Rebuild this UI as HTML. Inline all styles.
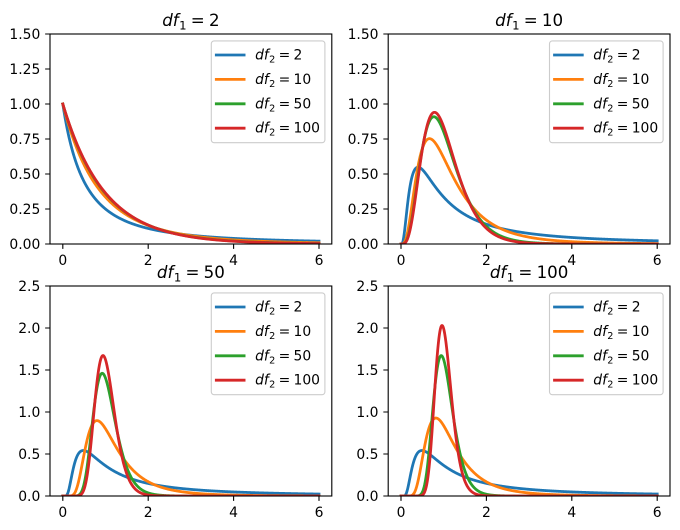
<!DOCTYPE html>
<html><head><meta charset="utf-8">
<style>
html,body{margin:0;padding:0;background:#fff;}
svg{display:block;}
text{font-family:"DejaVu Sans","Liberation Sans",sans-serif;fill:#000;}
.tk{font-size:13.89px;}
.ttl{font-size:16.67px;}
.lg{font-size:13.89px;}
</style></head>
<body>
<svg id="fig" width="680" height="530" viewBox="0 0 680 530" xmlns="http://www.w3.org/2000/svg">
<rect width="680" height="530" fill="#fff"/>
<defs>
 <clipPath id="c0"><rect x="50" y="34" width="281.8" height="210"/></clipPath>
 <clipPath id="c1"><rect x="388.2" y="34" width="281.8" height="210"/></clipPath>
 <clipPath id="c2"><rect x="50" y="286" width="281.8" height="210"/></clipPath>
 <clipPath id="c3"><rect x="388.2" y="286" width="281.8" height="210"/></clipPath>
</defs>

<!-- curves -->
<g id="g0" clip-path="url(#c0)"></g>
<g id="g1" clip-path="url(#c1)"></g>
<g id="g2" clip-path="url(#c2)"></g>
<g id="g3" clip-path="url(#c3)"></g>

<!-- spines & ticks -->
<g stroke="#000" stroke-width="1.11" fill="none">
 <rect x="50" y="34" width="281.8" height="210"/>
 <rect x="388.2" y="34" width="281.8" height="210"/>
 <rect x="50" y="286" width="281.8" height="210"/>
 <rect x="388.2" y="286" width="281.8" height="210"/>
 <path d="M45.14 244H50M45.14 209H50M45.14 174H50M45.14 139H50M45.14 104H50M45.14 69H50M45.14 34H50"/>
 <path d="M383.34 244H388.2M383.34 209H388.2M383.34 174H388.2M383.34 139H388.2M383.34 104H388.2M383.34 69H388.2M383.34 34H388.2"/>
 <path d="M45.14 496H50M45.14 454H50M45.14 412H50M45.14 370H50M45.14 328H50M45.14 286H50"/>
 <path d="M383.34 496H388.2M383.34 454H388.2M383.34 412H388.2M383.34 370H388.2M383.34 328H388.2M383.34 286H388.2"/>
 <path d="M62.81 244V248.86M148.2 244V248.86M233.6 244V248.86M319 244V248.86"/>
 <path d="M401 244V248.86M486.4 244V248.86M571.8 244V248.86M657.2 244V248.86"/>
 <path d="M62.81 496V500.86M148.2 496V500.86M233.6 496V500.86M319 496V500.86"/>
 <path d="M401 496V500.86M486.4 496V500.86M571.8 496V500.86M657.2 496V500.86"/>
</g>

<!-- y tick labels -->
<g class="tk" text-anchor="end">
 <text x="40.3" y="249">0.00</text><text x="40.3" y="214">0.25</text><text x="40.3" y="179">0.50</text><text x="40.3" y="144">0.75</text><text x="40.3" y="109">1.00</text><text x="40.3" y="74">1.25</text><text x="40.3" y="39">1.50</text>
 <text x="378.5" y="249">0.00</text><text x="378.5" y="214">0.25</text><text x="378.5" y="179">0.50</text><text x="378.5" y="144">0.75</text><text x="378.5" y="109">1.00</text><text x="378.5" y="74">1.25</text><text x="378.5" y="39">1.50</text>
 <text x="40.3" y="501">0.0</text><text x="40.3" y="459">0.5</text><text x="40.3" y="417">1.0</text><text x="40.3" y="375">1.5</text><text x="40.3" y="333">2.0</text><text x="40.3" y="291">2.5</text>
 <text x="378.5" y="501">0.0</text><text x="378.5" y="459">0.5</text><text x="378.5" y="417">1.0</text><text x="378.5" y="375">1.5</text><text x="378.5" y="333">2.0</text><text x="378.5" y="291">2.5</text>
</g>

<!-- x tick labels -->
<g class="tk" text-anchor="middle">
 <text x="62.81" y="265">0</text><text x="148.2" y="265">2</text><text x="233.6" y="265">4</text><text x="319" y="265">6</text>
 <text x="401" y="265">0</text><text x="486.4" y="265">2</text><text x="571.8" y="265">4</text><text x="657.2" y="265">6</text>
 <text x="62.81" y="517">0</text><text x="148.2" y="517">2</text><text x="233.6" y="517">4</text><text x="319" y="517">6</text>
 <text x="401" y="517">0</text><text x="486.4" y="517">2</text><text x="571.8" y="517">4</text><text x="657.2" y="517">6</text>
</g>

<!-- titles -->
<g class="ttl" text-anchor="middle">
 <text x="190.9" y="26"><tspan font-style="italic">df</tspan><tspan font-size="11.67" dy="3.6" dx="0.5">1</tspan><tspan dy="-3.6" dx="4.2">=</tspan><tspan dx="4.2">2</tspan></text>
 <text x="529.1" y="26"><tspan font-style="italic">df</tspan><tspan font-size="11.67" dy="3.6" dx="0.5">1</tspan><tspan dy="-3.6" dx="4.2">=</tspan><tspan dx="4.2">10</tspan></text>
 <text x="190.9" y="278"><tspan font-style="italic">df</tspan><tspan font-size="11.67" dy="3.6" dx="0.5">1</tspan><tspan dy="-3.6" dx="4.2">=</tspan><tspan dx="4.2">50</tspan></text>
 <text x="529.1" y="278"><tspan font-style="italic">df</tspan><tspan font-size="11.67" dy="3.6" dx="0.5">1</tspan><tspan dy="-3.6" dx="4.2">=</tspan><tspan dx="4.2">100</tspan></text>
</g>

<!-- legends -->
<g id="legends">
 <g transform="translate(211.3,40.9)">
  <rect x="0" y="0" width="113.6" height="101.8" rx="2.78" ry="2.78" fill="#fff" fill-opacity="0.8" stroke="#cccccc" stroke-width="1.11"/>
  <g stroke-width="2.78" stroke-linecap="square">
   <path d="M5 14.1H32.8" stroke="#1f77b4"/><path d="M5 38.5H32.8" stroke="#ff7f0e"/><path d="M5 62.9H32.8" stroke="#2ca02c"/><path d="M5 87.3H32.8" stroke="#d62728"/>
  </g>
  <g class="lg">
   <text x="43.8" y="18.6"><tspan font-style="italic">df</tspan><tspan font-size="9.72" dy="3" dx="0.3">2</tspan><tspan dy="-3" dx="3.3">=</tspan><tspan dx="3.3">2</tspan></text>
   <text x="43.8" y="43"><tspan font-style="italic">df</tspan><tspan font-size="9.72" dy="3" dx="0.3">2</tspan><tspan dy="-3" dx="3.3">=</tspan><tspan dx="3.3">10</tspan></text>
   <text x="43.8" y="67.4"><tspan font-style="italic">df</tspan><tspan font-size="9.72" dy="3" dx="0.3">2</tspan><tspan dy="-3" dx="3.3">=</tspan><tspan dx="3.3">50</tspan></text>
   <text x="43.8" y="91.8"><tspan font-style="italic">df</tspan><tspan font-size="9.72" dy="3" dx="0.3">2</tspan><tspan dy="-3" dx="3.3">=</tspan><tspan dx="3.3">100</tspan></text>
  </g>
 </g>
 <g transform="translate(549.5,40.9)">
  <rect x="0" y="0" width="113.6" height="101.8" rx="2.78" ry="2.78" fill="#fff" fill-opacity="0.8" stroke="#cccccc" stroke-width="1.11"/>
  <g stroke-width="2.78" stroke-linecap="square">
   <path d="M5 14.1H32.8" stroke="#1f77b4"/><path d="M5 38.5H32.8" stroke="#ff7f0e"/><path d="M5 62.9H32.8" stroke="#2ca02c"/><path d="M5 87.3H32.8" stroke="#d62728"/>
  </g>
  <g class="lg">
   <text x="43.8" y="18.6"><tspan font-style="italic">df</tspan><tspan font-size="9.72" dy="3" dx="0.3">2</tspan><tspan dy="-3" dx="3.3">=</tspan><tspan dx="3.3">2</tspan></text>
   <text x="43.8" y="43"><tspan font-style="italic">df</tspan><tspan font-size="9.72" dy="3" dx="0.3">2</tspan><tspan dy="-3" dx="3.3">=</tspan><tspan dx="3.3">10</tspan></text>
   <text x="43.8" y="67.4"><tspan font-style="italic">df</tspan><tspan font-size="9.72" dy="3" dx="0.3">2</tspan><tspan dy="-3" dx="3.3">=</tspan><tspan dx="3.3">50</tspan></text>
   <text x="43.8" y="91.8"><tspan font-style="italic">df</tspan><tspan font-size="9.72" dy="3" dx="0.3">2</tspan><tspan dy="-3" dx="3.3">=</tspan><tspan dx="3.3">100</tspan></text>
  </g>
 </g>
 <g transform="translate(211.3,292.9)">
  <rect x="0" y="0" width="113.6" height="101.8" rx="2.78" ry="2.78" fill="#fff" fill-opacity="0.8" stroke="#cccccc" stroke-width="1.11"/>
  <g stroke-width="2.78" stroke-linecap="square">
   <path d="M5 14.1H32.8" stroke="#1f77b4"/><path d="M5 38.5H32.8" stroke="#ff7f0e"/><path d="M5 62.9H32.8" stroke="#2ca02c"/><path d="M5 87.3H32.8" stroke="#d62728"/>
  </g>
  <g class="lg">
   <text x="43.8" y="18.6"><tspan font-style="italic">df</tspan><tspan font-size="9.72" dy="3" dx="0.3">2</tspan><tspan dy="-3" dx="3.3">=</tspan><tspan dx="3.3">2</tspan></text>
   <text x="43.8" y="43"><tspan font-style="italic">df</tspan><tspan font-size="9.72" dy="3" dx="0.3">2</tspan><tspan dy="-3" dx="3.3">=</tspan><tspan dx="3.3">10</tspan></text>
   <text x="43.8" y="67.4"><tspan font-style="italic">df</tspan><tspan font-size="9.72" dy="3" dx="0.3">2</tspan><tspan dy="-3" dx="3.3">=</tspan><tspan dx="3.3">50</tspan></text>
   <text x="43.8" y="91.8"><tspan font-style="italic">df</tspan><tspan font-size="9.72" dy="3" dx="0.3">2</tspan><tspan dy="-3" dx="3.3">=</tspan><tspan dx="3.3">100</tspan></text>
  </g>
 </g>
 <g transform="translate(549.5,292.9)">
  <rect x="0" y="0" width="113.6" height="101.8" rx="2.78" ry="2.78" fill="#fff" fill-opacity="0.8" stroke="#cccccc" stroke-width="1.11"/>
  <g stroke-width="2.78" stroke-linecap="square">
   <path d="M5 14.1H32.8" stroke="#1f77b4"/><path d="M5 38.5H32.8" stroke="#ff7f0e"/><path d="M5 62.9H32.8" stroke="#2ca02c"/><path d="M5 87.3H32.8" stroke="#d62728"/>
  </g>
  <g class="lg">
   <text x="43.8" y="18.6"><tspan font-style="italic">df</tspan><tspan font-size="9.72" dy="3" dx="0.3">2</tspan><tspan dy="-3" dx="3.3">=</tspan><tspan dx="3.3">2</tspan></text>
   <text x="43.8" y="43"><tspan font-style="italic">df</tspan><tspan font-size="9.72" dy="3" dx="0.3">2</tspan><tspan dy="-3" dx="3.3">=</tspan><tspan dx="3.3">10</tspan></text>
   <text x="43.8" y="67.4"><tspan font-style="italic">df</tspan><tspan font-size="9.72" dy="3" dx="0.3">2</tspan><tspan dy="-3" dx="3.3">=</tspan><tspan dx="3.3">50</tspan></text>
   <text x="43.8" y="91.8"><tspan font-style="italic">df</tspan><tspan font-size="9.72" dy="3" dx="0.3">2</tspan><tspan dy="-3" dx="3.3">=</tspan><tspan dx="3.3">100</tspan></text>
  </g>
 </g>
</g>
</svg>
<script>
(function(){
  function lgamma(z){
    var c=[0.99999999999980993,676.5203681218851,-1259.1392167224028,771.32342877765313,-176.61502916214059,12.507343278686905,-0.13857109526572012,9.9843695780195716e-6,1.5056327351493116e-7];
    if(z<0.5) return Math.log(Math.PI/Math.sin(Math.PI*z))-lgamma(1-z);
    z-=1; var x=c[0];
    for(var i=1;i<9;i++) x+=c[i]/(z+i);
    var t=z+7.5;
    return 0.5*Math.log(2*Math.PI)+(z+0.5)*Math.log(t)-t+Math.log(x);
  }
  function pdf(x,d1,d2){
    if(x<=0){ return d1===2?1:(d1<2?Infinity:0); }
    var lb=lgamma(d1/2)+lgamma(d2/2)-lgamma((d1+d2)/2);
    var lf=(d1/2)*Math.log(d1/d2)+(d1/2-1)*Math.log(x)-((d1+d2)/2)*Math.log(1+d1*x/d2)-lb;
    return Math.exp(lf);
  }
  var panels=[{x:50,y:34,ymax:1.5,d1:2},{x:388.2,y:34,ymax:1.5,d1:10},{x:50,y:286,ymax:2.5,d1:50},{x:388.2,y:286,ymax:2.5,d1:100}];
  var cols=['#1f77b4','#ff7f0e','#2ca02c','#d62728'];
  var d2s=[2,10,50,100];
  var NS='http://www.w3.org/2000/svg';
  var N=1000;
  panels.forEach(function(p,i){
    var g=document.getElementById('g'+i);
    d2s.forEach(function(d2,j){
      var d='';
      for(var k=0;k<=N;k++){
        var x=6*k/N;
        var y=pdf(x,p.d1,d2);
        var px=p.x+(x+0.3)/6.6*281.8;
        var py=p.y+210-y/p.ymax*210;
        d+=(k===0?'M':'L')+px.toFixed(2)+' '+py.toFixed(2);
      }
      var path=document.createElementNS(NS,'path');
      path.setAttribute('d',d);
      path.setAttribute('fill','none');
      path.setAttribute('stroke',cols[j]);
      path.setAttribute('stroke-width','2.78');
      path.setAttribute('stroke-linecap','square');
      path.setAttribute('stroke-linejoin','round');
      g.appendChild(path);
    });
  });
})();
</script>
</body></html>
